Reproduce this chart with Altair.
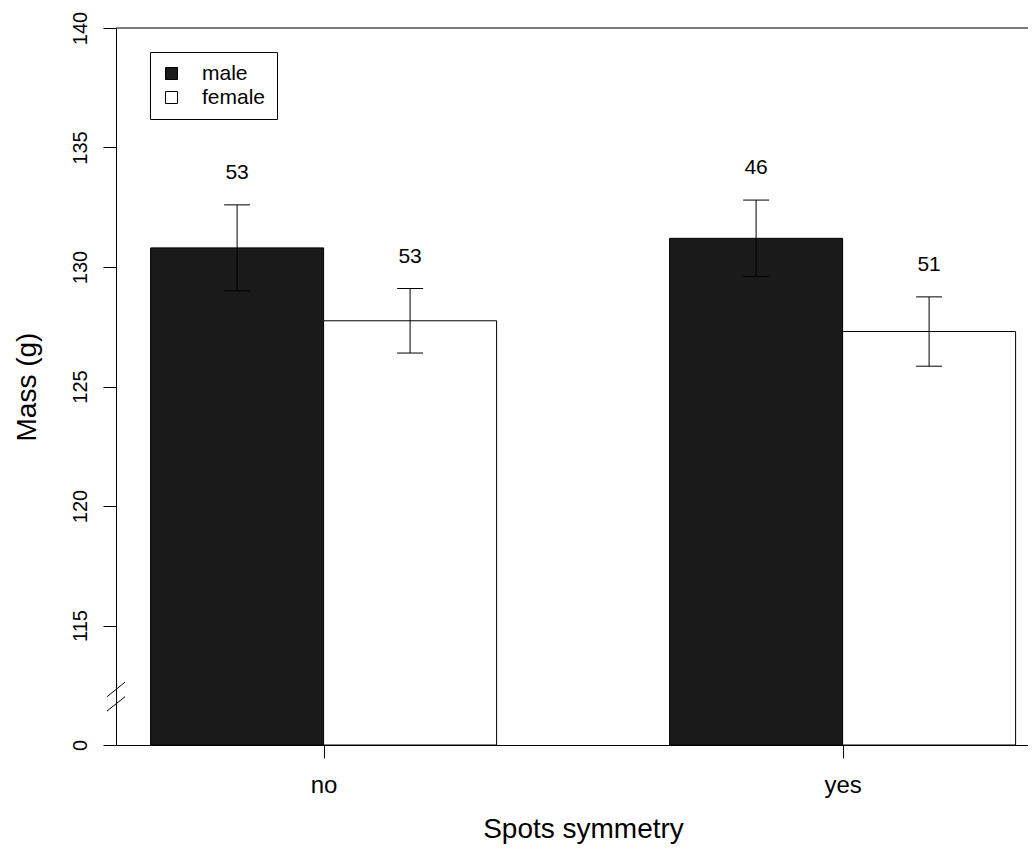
import altair as alt
import pandas as pd

# ---- data ----
groups = ["no", "yes"]
sexes = ["male", "female"]
bar_group = ["no", "no", "yes", "yes"]
bar_sex = ["male", "female", "male", "female"]
means = [130.8, 127.75, 131.2, 127.3]
upper = [132.6, 129.1, 132.8, 128.75]
lower = [129.0, 126.4, 129.6, 125.85]
counts = [53, 53, 46, 51]
y_ticks = [110, 115, 120, 125, 130, 135, 140]
axis_break_value = 110          # printed as "0" on the broken axis
break_lo = [112.02, 111.42]     # the two "//" strokes of the axis break
break_hi = [112.63, 112.02]
frame_top = [140]

W, H = 912, 717
FONT = "Liberation Sans"

rows = []
for g, s, m, u, l, n in zip(bar_group, bar_sex, means, upper, lower, counts):
    gi, si = groups.index(g), sexes.index(s)
    start = 1 + 3 * gi + si          # R barplot(beside=TRUE) layout
    rows.append(dict(group=g, sex=s, mean=m, upper=u, lower=l, n=n,
                     x0=start, x1=start + 1, xm=start + 0.5))
df = pd.DataFrame(rows)
df["base"] = axis_break_value
df["cap0"] = df["xm"] - 0.075
df["cap1"] = df["xm"] + 0.075

tick_pos = [2 + 3 * i for i in range(len(groups))]
label_expr = " : ".join(
    [f"datum.value == {p} ? '{g}'" for p, g in zip(tick_pos, groups)]) + " : ''"

xscale = alt.Scale(domain=[0.8, 0.8 + W / 173.0], nice=False, zero=False)
yscale = alt.Scale(domain=[110, 140], nice=False, zero=False)

x_axis = alt.Axis(values=tick_pos, labelExpr=label_expr, title="Spots symmetry",
                  grid=False, tickSize=13, labelFontSize=24, labelPadding=15,
                  labelFlush=False, labelOverlap=False,
                  titleFontSize=28, titleFontWeight="normal", titleX=467, titleY=92,
                  titleAlign="center", titleBaseline="alphabetic",
                  domainColor="black", tickColor="black", labelColor="black",
                  titleColor="black")
y_axis = alt.Axis(values=y_ticks,
                  labelExpr=f"datum.value == {axis_break_value} ? '0' : datum.label",
                  title="Mass (g)", grid=False, tickSize=13, labelFontSize=20,
                  labelAngle=270, labelAlign="center", labelBaseline="alphabetic",
                  labelPadding=17, labelFlush=False, labelOverlap=False,
                  titleFontSize=28, titleFontWeight="normal", titleAngle=270,
                  titleX=-81, titleY=H / 2, titleAlign="center",
                  titleBaseline="alphabetic",
                  domainColor="black", tickColor="black", labelColor="black",
                  titleColor="black")

base = alt.Chart(df)

bars = base.mark_bar(stroke="black", strokeWidth=1).encode(
    x=alt.X("x0:Q", scale=xscale, axis=x_axis),
    x2="x1:Q",
    y=alt.Y("mean:Q", scale=yscale, axis=y_axis),
    y2="base:Q",
    fill=alt.Fill("sex:N",
                  scale=alt.Scale(domain=sexes, range=["#1a1a1a", "white"]),
                  legend=alt.Legend(title=None, orient="none", legendX=34, legendY=24,
                                    strokeColor="black", fillColor="white",
                                    padding=11, rowPadding=2, labelFontSize=21,
                                    labelColor="black", symbolType="square",
                                    symbolSize=144, symbolStrokeColor="black",
                                    symbolStrokeWidth=1, labelOffset=20)),
)

err = base.mark_rule(color="black", strokeWidth=1).encode(
    x=alt.X("xm:Q", scale=xscale, axis=x_axis),
    y=alt.Y("lower:Q", scale=yscale, axis=y_axis),
    y2="upper:Q",
)
cap_hi = base.mark_rule(color="black", strokeWidth=1).encode(
    x=alt.X("cap0:Q", scale=xscale, axis=x_axis), x2="cap1:Q",
    y=alt.Y("upper:Q", scale=yscale, axis=y_axis),
)
cap_lo = base.mark_rule(color="black", strokeWidth=1).encode(
    x=alt.X("cap0:Q", scale=xscale, axis=x_axis), x2="cap1:Q",
    y=alt.Y("lower:Q", scale=yscale, axis=y_axis),
)
labels = base.mark_text(dy=-32, fontSize=21, font=FONT, color="black",
                        baseline="middle", align="center").encode(
    x=alt.X("xm:Q", scale=xscale, axis=x_axis),
    y=alt.Y("upper:Q", scale=yscale, axis=y_axis),
    text="n:Q",
)

top_line = alt.Chart(pd.DataFrame({"top": frame_top})).mark_rule(
    color="black", strokeWidth=1).encode(
    y=alt.Y("top:Q", scale=yscale, axis=y_axis),
    x=alt.value(0), x2=alt.value(W),
)

breaks = alt.Chart(pd.DataFrame({"lo": break_lo, "hi": break_hi})).mark_rule(
    color="black", strokeWidth=1).encode(
    y=alt.Y("lo:Q", scale=yscale, axis=y_axis),
    y2="hi:Q",
    x=alt.value(-9), x2=alt.value(9),
)

chart = alt.layer(bars, err, cap_hi, cap_lo, labels, top_line, breaks).properties(
    width=W, height=H,
    autosize=alt.AutoSizeParams(type="none"),
    padding={"left": 108, "top": 20, "right": 0, "bottom": 99},
).configure(font=FONT).configure_view(stroke="transparent")

chart.save("out.html", embed_options={"renderer": "svg", "actions": False})
